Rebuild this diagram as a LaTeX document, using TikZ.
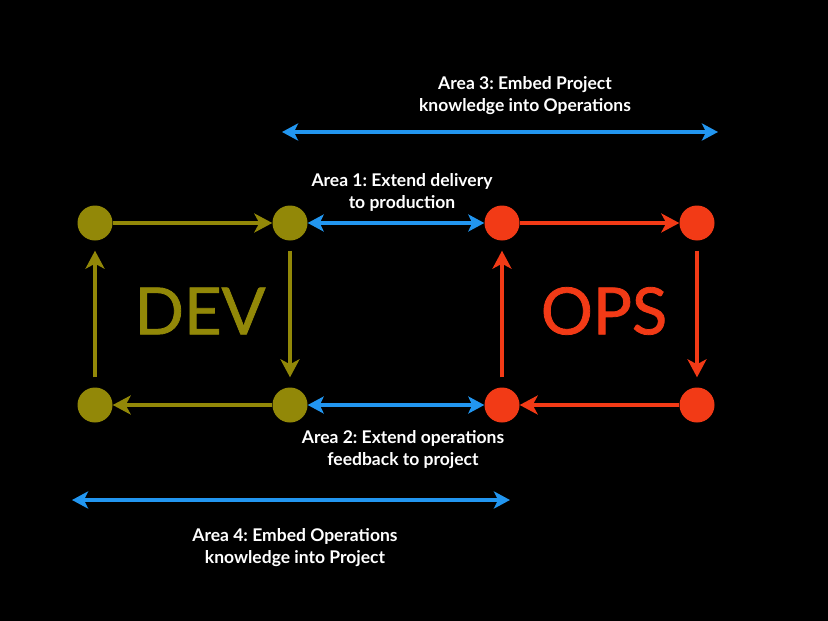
\documentclass[tikz,border=0pt]{standalone}
\usepackage{fontspec}
\setmainfont{Lato}
\newfontfamily\bigfont[FakeBold=1.2]{Lato}
\frenchspacing
\usetikzlibrary{arrows.meta}
\definecolor{devc}{RGB}{146,136,8}
\definecolor{opsc}{RGB}{242,58,22}
\definecolor{areac}{RGB}{34,150,240}
\tikzset{
  dot/.style={circle,inner sep=0pt,minimum size=35pt,fill=#1},
  loopar/.style={draw=#1,line width=4pt,-{Stealth[length=18pt,width=19pt,inset=5pt]}},
  areaar/.style={draw=areac,line width=4pt,{Stealth[length=16pt,width=17pt,inset=4pt]}-{Stealth[length=16pt,width=17pt,inset=4pt]}},
  lbl/.style={text=white,font=\bfseries\fontsize{17.5}{22}\selectfont,align=center,inner sep=0pt},
  big/.style={text=#1,font=\bigfont\fontsize{65}{70}\selectfont,inner sep=0pt}
}
\begin{document}
\begin{tikzpicture}[x=1pt,y=-1pt]
\fill[black] (0,0) rectangle (828,621);
\useasboundingbox (0,0) rectangle (828,621);
% DEV
\node[dot=devc] (d1) at (95,223) {};
\node[dot=devc] (d2) at (290,223) {};
\node[dot=devc] (d3) at (290,405) {};
\node[dot=devc] (d4) at (95,405) {};
\draw[loopar=devc] (d1) -- (d2);
\draw[loopar=devc,shorten <=10pt,shorten >=10pt] (d2) -- (d3);
\draw[loopar=devc] (d3) -- (d4);
\draw[loopar=devc,shorten <=10pt,shorten >=10pt] (d4) -- (d1);
\node[big=devc] (dev) at (200,311) {DEV};
% OPS
\node[dot=opsc] (o1) at (502,223) {};
\node[dot=opsc] (o2) at (697,223) {};
\node[dot=opsc] (o3) at (697,405) {};
\node[dot=opsc] (o4) at (502,405) {};
\draw[loopar=opsc] (o1) -- (o2);
\draw[loopar=opsc,shorten <=10pt,shorten >=10pt] (o2) -- (o3);
\draw[loopar=opsc] (o3) -- (o4);
\draw[loopar=opsc,shorten <=10pt,shorten >=10pt] (o4) -- (o1);
\node[big=opsc] (ops) at (604,311) {OPS};
% Areas 1 and 2
\draw[areaar] (d2) -- (o1);
\draw[areaar] (d3) -- (o4);
\node[lbl] (a1) at (402,192) {Area 1: Extend delivery\\to production};
\node[lbl] (a2) at (403,450) {Area 2: Extend operations\\feedback to project};
% Areas 3 and 4
\coordinate (a3l) at (282,132);
\coordinate (a3r) at (718,132);
\draw[areaar] (a3l) -- (a3r);
\node[lbl] (a3) at (525,96) {Area 3: Embed Project\\knowledge into Operations};
\coordinate (a4l) at (72,500);
\coordinate (a4r) at (510,500);
\draw[areaar] (a4l) -- (a4r);
\node[lbl] (a4) at (295,548) {Area 4: Embed Operations\\knowledge into Project};
\end{tikzpicture}
\end{document}
